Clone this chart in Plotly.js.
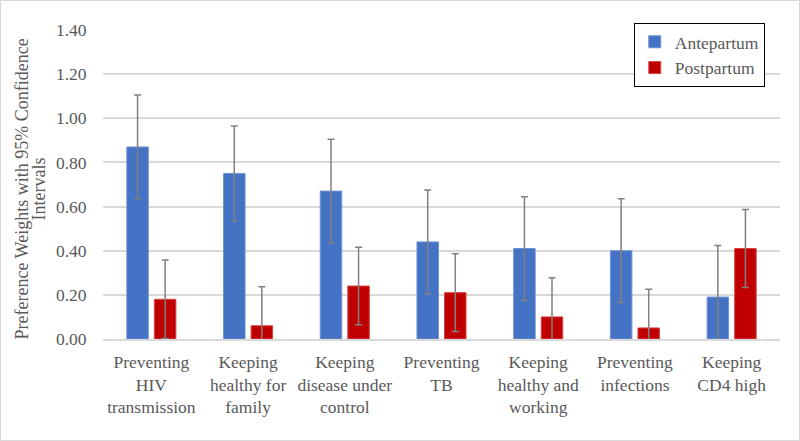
<!DOCTYPE html>
<html>
<head>
<meta charset="utf-8">
<script src="https://cdn.plot.ly/plotly-3.0.1.min.js"></script>
<style>
  html, body { margin: 0; padding: 0; background: #fff; }
  #chart { width: 800px; height: 441px; box-sizing: border-box; border: 1px solid #d9d9d9; }
</style>
</head>
<body>
<div id="chart"></div>
<script>
// categories (x axis) and series values
let categories = [
    'Preventing<br>HIV<br>transmission',
    'Keeping<br>healthy for<br>family',
    'Keeping<br>disease under<br>control',
    'Preventing<br>TB',
    'Keeping<br>healthy and<br>working',
    'Preventing<br>infections',
    'Keeping<br>CD4 high'
];
let antepartum = [0.87, 0.75, 0.67, 0.44, 0.41, 0.40, 0.19];
let antepartumCI = [0.235, 0.215, 0.235, 0.235, 0.235, 0.235, 0.234];
let postpartum = [0.18, 0.06, 0.24, 0.21, 0.10, 0.05, 0.41];
let postpartumCI = [0.178, 0.177, 0.176, 0.176, 0.177, 0.175, 0.177];
let yTicks = [0, 0.2, 0.4, 0.6, 0.8, 1.0, 1.2, 1.4];
let yTitleLines = ['Preference Weights with 95% Confidence', 'Intervals'];

let font = '"Liberation Serif", "Times New Roman", serif';
let grey = '#595959';

let errStyle = (arr) => ({
    type: 'data',
    array: arr,
    visible: true,
    color: '#808080',
    thickness: 1.5,
    width: 3.5
});

let data = [
    {
        x: categories,
        y: antepartum,
        type: 'bar',
        name: 'Antepartum',
        marker: { color: '#4472C4', line: { color: '#6f93d3', width: 1 } },
        error_y: errStyle(antepartumCI)
    },
    {
        x: categories,
        y: postpartum,
        type: 'bar',
        name: 'Postpartum',
        marker: { color: '#C00000', line: { color: '#d64545', width: 1 } },
        error_y: errStyle(postpartumCI)
    }
];

// y axis title, one annotation per line (tighter line spacing than plotly's default)
let titleShift = [-82, -65];
let titleAnnots = yTitleLines.map((txt, i) => ({
    text: txt,
    xref: 'paper', yref: 'paper',
    x: 0, y: 0.5,
    xanchor: 'center', yanchor: 'middle',
    xshift: titleShift[i],
    yshift: -5,
    textangle: -90,
    showarrow: false,
    font: { family: font, size: 18, color: grey }
}));

let layout = {
    width: 798,
    height: 439,
    margin: { l: 102, r: 19, t: 29, b: 101 },
    paper_bgcolor: '#ffffff',
    plot_bgcolor: '#ffffff',
    barmode: 'group',
    bargap: 0.43,
    bargroupgap: 0.22,
    font: { family: font, size: 17.5, color: grey },
    showlegend: true,
    legend: {
        x: 0.784, y: 1.023,
        xanchor: 'left', yanchor: 'top',
        bordercolor: '#000000',
        borderwidth: 1,
        bgcolor: '#ffffff',
        itemwidth: 30,
        font: { family: font, size: 17.5, color: grey }
    },
    xaxis: {
        type: 'category',
        showgrid: false,
        showline: true,
        linecolor: '#d9d9d9',
        linewidth: 1.5,
        ticks: 'outside',
        ticklen: 6,
        tickcolor: 'rgba(0,0,0,0)',
        tickfont: { family: font, size: 17.5, color: grey },
        automargin: false
    },
    yaxis: {
        range: [0, 1.4],
        tickvals: yTicks,
        tickformat: '.2f',
        showgrid: true,
        gridcolor: '#d9d9d9',
        gridwidth: 1.5,
        zeroline: false,
        showline: false,
        ticks: 'outside',
        ticklen: 12,
        tickcolor: 'rgba(0,0,0,0)',
        tickfont: { family: font, size: 17.5, color: grey },
        automargin: false
    },
    annotations: titleAnnots
};

Plotly.newPlot('chart', data, layout, { displayModeBar: false });
</script>
</body>
</html>
